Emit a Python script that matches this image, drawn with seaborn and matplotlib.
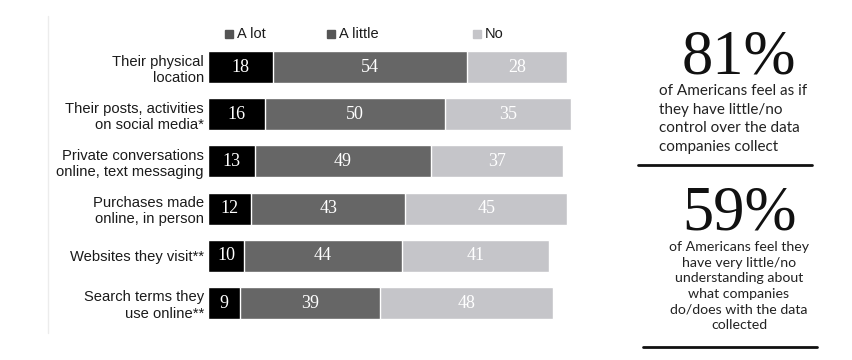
import numpy as np
import pandas as pd
import matplotlib.pyplot as plt
import seaborn as sns

categories = ["Their physical\nlocation", "Their posts, activities\non social media*",
              "Private conversations\nonline, text messaging", "Purchases made\nonline, in person",
              "Websites they visit**", "Search terms they\nuse online**"]
a_lot = [18, 16, 13, 12, 10, 9]
a_little = [54, 50, 49, 43, 44, 39]
no = [28, 35, 37, 45, 41, 48]
series_names = ["A lot", "A little", "No"]

df = pd.DataFrame({"item": categories, "A lot": a_lot, "A little": a_little, "No": no})
df["cum1"] = df["A lot"]
df["cum2"] = df["A lot"] + df["A little"]
df["cum3"] = df["cum2"] + df["No"]

sns.set_style("white")
plt.rcParams['font.family'] = ['Liberation Sans', 'DejaVu Sans']

fig = plt.figure(figsize=(8.52, 3.6), dpi=100)
ax = fig.add_axes([208 / 852, 33.4 / 360, 377 / 852, 283.2 / 360])

colors = {"A lot": "#000000", "A little": "#666666", "No": "#c5c5c9"}
sns.barplot(data=df, x="cum3", y="item", color=colors["No"], width=0.68, ax=ax, saturation=1)
sns.barplot(data=df, x="cum2", y="item", color=colors["A little"], width=0.68, ax=ax, saturation=1)
sns.barplot(data=df, x="cum1", y="item", color=colors["A lot"], width=0.68, ax=ax, saturation=1)

ax.set_xlim(0, 105)
ax.set_ylim(5.5, -0.5)
ax.set_xlabel("")
ax.set_ylabel("")
ax.set_xticks([])
sns.despine(ax=ax, left=True, bottom=True)
ax.tick_params(axis="y", length=0, pad=3)
for lab in ax.get_yticklabels():
    lab.set_fontsize(10.6)
    lab.set_color("#1a1a1a")
    lab.set_horizontalalignment("right")
    lab.set_linespacing(1.2)

# value labels
for i, row in df.iterrows():
    starts = [0, row["cum1"], row["cum2"]]
    vals = [row["A lot"], row["A little"], row["No"]]
    for s, v in zip(starts, vals):
        ax.text(s + v / 2, i, str(v), ha="center", va="center", color="white",
                fontsize=13, family="Liberation Serif")

# legend
leg_x = [229, 331, 477]
leg_c = ["#555555", "#555555", "#c5c5c9"]
for x, name, c in zip(leg_x, series_names, leg_c):
    fig.patches.append(plt.Rectangle(((x - 4) / 852, 1 - 38 / 360), 8 / 852, 8 / 360,
                                     transform=fig.transFigure, color=c))
    fig.text((x + 8) / 852, 1 - 34 / 360, name, fontsize=10.5, va="center", ha="left",
             color="#1a1a1a")

# left faint line
fig.add_artist(plt.Line2D([48 / 852, 48 / 852], [1 - 16 / 360, 1 - 333 / 360],
                          color="#ececec", lw=1))

# right panel
fig.text(739 / 852, 1 - 73 / 360, "81%", fontsize=45, family="Liberation Serif",
         ha="center", va="baseline", color="#111111")
fig.text(659 / 852, 1 - 84 / 360,
         "of Americans feel as if\nthey have little/no\ncontrol over the data\ncompanies collect",
         fontsize=11, family="Lato", ha="left", va="top", linespacing=1.42, color="#222222")
fig.add_artist(plt.Line2D([638 / 852, 812 / 852], [1 - 165 / 360, 1 - 165 / 360],
                          color="#111111", lw=2))
fig.text(739 / 852, 1 - 229 / 360, "59%", fontsize=45, family="Liberation Serif",
         ha="center", va="baseline", color="#111111")
fig.text(739 / 852, 1 - 241 / 360,
         "of Americans feel they\nhave very little/no\nunderstanding about\nwhat companies\ndo/does with the data\ncollected",
         fontsize=10.2, family="Lato", ha="center", va="top", linespacing=1.36, color="#222222")
fig.add_artist(plt.Line2D([643 / 852, 817 / 852], [1 - 347 / 360, 1 - 347 / 360],
                          color="#111111", lw=2))

fig.savefig("out.png", dpi=100, facecolor="white")
